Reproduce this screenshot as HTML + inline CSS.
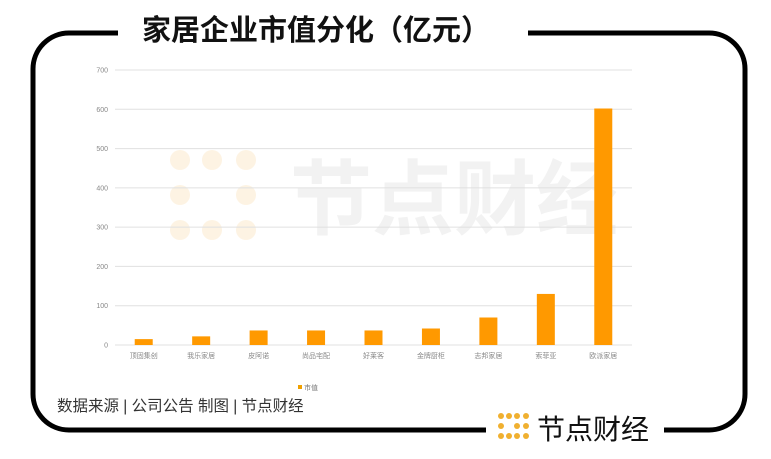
<!DOCTYPE html>
<html><head><meta charset="utf-8"><style>
body{margin:0;width:771px;height:454px;background:#fff;overflow:hidden;font-family:"Liberation Sans","Noto Sans CJK SC",sans-serif}
</style></head><body>
<svg width="771" height="454">
<rect x="33" y="33" width="712" height="397" rx="36" fill="none" stroke="#000" stroke-width="5"/>
<rect x="118" y="20" width="410" height="30" fill="#fff"/>
<rect x="486" y="415" width="178" height="30" fill="#fff"/>
<text x="316" y="40" text-anchor="middle" font-size="29" font-weight="bold" fill="#111">家居企业市值分化（亿元）</text>
<g opacity="0.12" fill="#f0a020">
<circle cx="180" cy="160" r="10"/><circle cx="212" cy="160" r="10"/><circle cx="246" cy="160" r="10"/><circle cx="180" cy="230" r="10"/><circle cx="212" cy="230" r="10"/><circle cx="246" cy="230" r="10"/><circle cx="180" cy="195" r="10"/><circle cx="246" cy="195" r="10"/>
<text x="290" y="228" font-size="82" font-weight="bold" fill="#999">节点财经</text></g>
<g id="grid"></g><g id="bars"></g><g id="labels"></g>
<rect x="298" y="385" width="4" height="4" fill="#f0a000"/>
<text x="304" y="390" font-size="7" fill="#777">市值</text>
<text x="57" y="411" font-size="15.5" fill="#333">数据来源 | 公司公告  制图 | 节点财经</text>
<g fill="#f0b030">
<circle cx="501" cy="416" r="3"/><circle cx="509" cy="416" r="3"/><circle cx="517" cy="416" r="3"/><circle cx="501" cy="426" r="3"/><circle cx="517" cy="426" r="3"/><circle cx="501" cy="436" r="3"/><circle cx="509" cy="436" r="3"/><circle cx="517" cy="436" r="3"/><circle cx="526" cy="416" r="3"/><circle cx="526" cy="426" r="3"/><circle cx="526" cy="436" r="3"/></g>
<text x="537" y="439" font-size="28" fill="#111">节点财经</text>
</svg>
<script>
const categories=["顶固集创","我乐家居","皮阿诺","尚品宅配","好莱客","金牌厨柜","志邦家居","索菲亚","欧派家居"];
const values=[15,22,37,37,37,42,70,130,602];
const ticks=[0,100,200,300,400,500,600,700];
const NS="http://www.w3.org/2000/svg";
const x0=115,x1=632,yb=345,yt=70;
const y=v=>yb-(v/700)*(yb-yt);
const band=(x1-x0)/categories.length;
const xc=i=>x0+band*(i+0.5);
function mk(t,a,p){const e=document.createElementNS(NS,t);for(const k in a)e.setAttribute(k,a[k]);document.getElementById(p).appendChild(e);return e;}
ticks.forEach(t=>{
 const l=mk('line',{x1:x0,x2:x1,y1:y(t),y2:y(t),stroke:'#e0e0e0','stroke-width':1},'grid');
 
 
 const tx=mk('text',{x:108,y:y(t)+2.5,'text-anchor':'end','font-size':7,fill:'#888'},'labels');
 tx.textContent=t;
 
 
});
categories.forEach((c,i)=>{
 const r=mk('rect',{x:xc(i)-9,y:y(values[i]),width:18,height:yb-y(values[i]),fill:'#ff9900'},'bars');
 
 
 const tx=mk('text',{x:xc(i),y:358,'text-anchor':'middle','font-size':7,fill:'#888'},'labels');
 tx.textContent=c;
 
 
});
</script>
</body></html>
